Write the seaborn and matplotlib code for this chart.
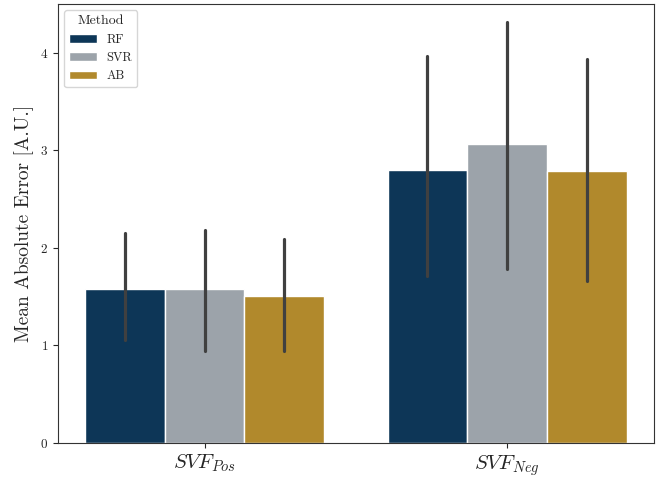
import pandas as pd
import matplotlib
matplotlib.use("Agg")
import matplotlib.pyplot as plt
import seaborn as sns

targets = [r"$SVF_{Pos}$", r"$SVF_{Neg}$"]
methods = ["RF", "SVR", "AB"]
mae_pos = [1.58, 1.58, 1.51]
mae_neg = [2.80, 3.06, 2.79]
err_lo_pos = [1.06, 0.94, 0.94]
err_hi_pos = [2.15, 2.18, 2.09]
err_lo_neg = [1.71, 1.78, 1.66]
err_hi_neg = [3.97, 4.31, 3.93]
colors = ["#0d3657", "#9ca3aa", "#b1892c"]

rows = []
for i, m in enumerate(methods):
    rows.append({"Target": targets[0], "Method": m, "MAE": mae_pos[i],
                 "lo": err_lo_pos[i], "hi": err_hi_pos[i]})
    rows.append({"Target": targets[1], "Method": m, "MAE": mae_neg[i],
                 "lo": err_lo_neg[i], "hi": err_hi_neg[i]})
df = pd.DataFrame(rows)

sns.set_style("ticks")
plt.rcParams["font.family"] = "serif"
plt.rcParams["font.serif"] = ["cmr10", "DejaVu Serif"]
plt.rcParams["mathtext.fontset"] = "cm"
plt.rcParams["axes.formatter.use_mathtext"] = True

fig = plt.figure(figsize=(6.59, 4.78), dpi=100)
ax = fig.add_axes([0.088, 0.073, 0.904, 0.919])

sns.barplot(data=df, x="Target", y="MAE", hue="Method", order=targets,
            hue_order=methods, palette=colors, errorbar=None, ax=ax,
            saturation=1, width=0.79, edgecolor="white", linewidth=1)

# error bars at the bar centres
for i, m in enumerate(methods):
    cont = ax.containers[i]
    for j, bar in enumerate(cont.patches):
        r = df[(df.Method == m) & (df.Target == targets[j])].iloc[0]
        xc = bar.get_x() + bar.get_width() / 2
        ax.plot([xc, xc], [r["lo"], r["hi"]], color="#404040", lw=2.3,
                solid_capstyle="round", zorder=3)

ax.set_ylim(0, 4.5)
ax.set_yticks([0, 1, 2, 3, 4])
ax.set_xlabel("")
ax.set_ylabel("Mean Absolute Error [A.U.]", fontsize=14)
ax.tick_params(axis="x", labelsize=15)
ax.tick_params(axis="y", labelsize=9.5)
for s in ax.spines.values():
    s.set_color("#333333")

leg = ax.legend(title="Method", loc="upper left", fontsize=9,
                title_fontsize=10, handlelength=2.2)

fig.savefig("out.png", dpi=100)
